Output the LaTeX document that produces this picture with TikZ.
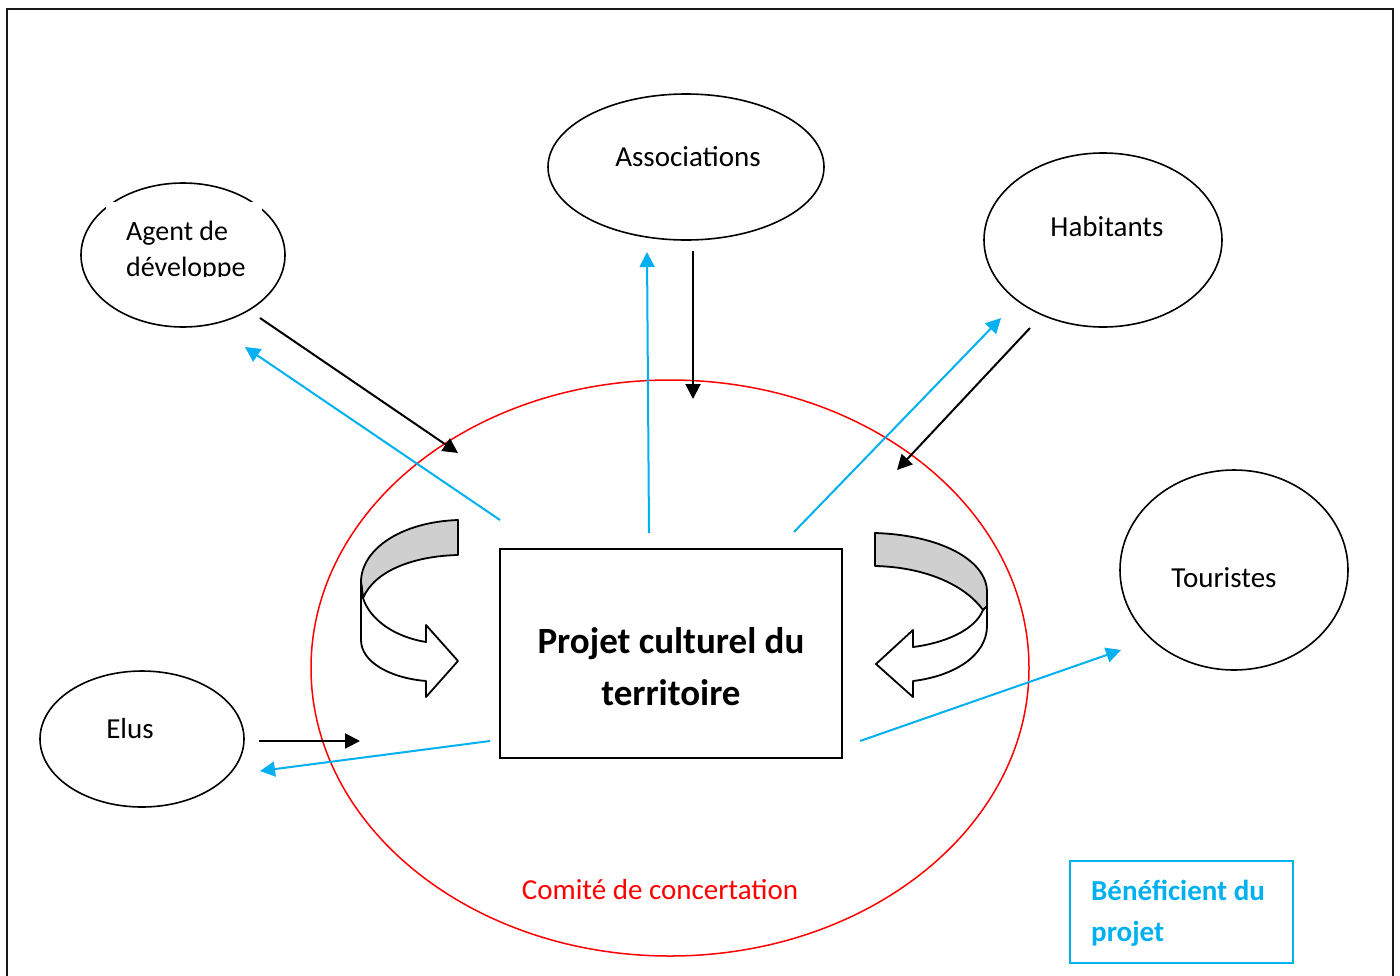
\documentclass[tikz,border=0pt]{standalone}
\usepackage{fontspec}
\setmainfont{Carlito}
\usetikzlibrary{arrows.meta,shapes.geometric}
\definecolor{cyanline}{HTML}{00B0F0}
\definecolor{bandgray}{HTML}{CFCFCF}
\tikzset{
  actor/.style={draw=black,line width=1.6pt,ellipse,inner sep=0pt},
  lbl/.style={anchor=base,inner sep=0pt,font=\fontsize{29}{35}\selectfont},
  blackarrow/.style={draw=black,line width=2pt,-{Triangle[length=15pt,width=15pt]}},
  bluearrow/.style={draw=cyanline,line width=2pt,-{Triangle[length=15pt,width=15pt]}},
  curvedarrow/.style={draw=black,line width=1.8pt,line join=round},
}
\begin{document}
\begin{tikzpicture}[x=1pt,y=-1pt]
\useasboundingbox (0,0) rectangle (1400,975);
\fill[white] (0,0) rectangle (1400,975);
% outer frame (open at the bottom)
\draw[black!90,line width=2.2pt] (7,980) -- (7,9) -- (1393,9) -- (1393,980);

% committee ellipse
\node[draw=red,line width=1.5pt,ellipse,inner sep=0pt,minimum width=718pt,minimum height=576pt] (comite) at (670,668) {};
\node[lbl,text=red] (comitetxt) at (660,899) {Comité de concertation};

% actors
\node[actor,minimum width=276pt,minimum height=146pt] (assoc) at (686,167) {};
\node[lbl] (assoctxt) at (688,166) {Associations};

\node[actor,minimum width=204pt,minimum height=144pt] (agent) at (183,255) {};
\fill[white] (106,202) rectangle (262,277);
\begin{scope}
  \clip (106,202) rectangle (262,276);
  \node[lbl,anchor=base west,font=\fontsize{28}{34}\selectfont] (agenttxt1) at (126,240) {Agent de};
  \node[lbl,anchor=base west,font=\fontsize{28}{34}\selectfont] (agenttxt2) at (126,276) {développe};
\end{scope}

\node[actor,minimum width=238pt,minimum height=174pt] (habit) at (1103,240) {};
\node[lbl] (habittxt) at (1107,236) {Habitants};

\node[actor,minimum width=228pt,minimum height=200pt] (tour) at (1234,570) {};
\node[lbl] (tourtxt) at (1224,587) {Touristes};

\node[actor,minimum width=204pt,minimum height=136pt] (elus) at (142,739) {};
\node[lbl] (elustxt) at (130,738) {Elus};

% central project box
\node[draw=black,line width=1.8pt,rectangle,inner sep=0pt,minimum width=342pt,minimum height=209pt] (projet) at (671,653.5) {};
\node[lbl,font=\bfseries\fontsize{37}{44}\selectfont] (projet1) at (671,653) {Projet culturel du};
\node[lbl,font=\bfseries\fontsize{37}{44}\selectfont] (projet2) at (671,705) {territoire};

% legend
\node[draw=cyanline,line width=1.8pt,rectangle,inner sep=0pt,minimum width=223pt,minimum height=102pt] (legend) at (1181.5,912) {};
\node[lbl,anchor=base west,text=cyanline,font=\bfseries\fontsize{29}{35}\selectfont] (leg1) at (1091,900) {Bénéficient du};
\node[lbl,anchor=base west,text=cyanline,font=\bfseries\fontsize{29}{35}\selectfont] (leg2) at (1091,941) {projet};

% arrow end points
\coordinate (a1s) at (260,318);  \coordinate (a1e) at (458,453);
\coordinate (b1s) at (500,520);  \coordinate (b1e) at (245,347);
\coordinate (b2s) at (649,533);  \coordinate (b2e) at (647,252);
\coordinate (a2s) at (693,251);  \coordinate (a2e) at (693,399);
\coordinate (b3s) at (794,532);  \coordinate (b3e) at (1001,318);
\coordinate (a3s) at (1030,328); \coordinate (a3e) at (897,470);
\coordinate (a4s) at (259,741);  \coordinate (a4e) at (360,741);
\coordinate (b4s) at (490,741);  \coordinate (b4e) at (260,771);
\coordinate (b5s) at (860,741);  \coordinate (b5e) at (1121,650);

\draw[blackarrow] (a1s) -- (a1e);
\draw[bluearrow] (b1s) -- (b1e);
\draw[bluearrow] (b2s) -- (b2e);
\draw[blackarrow] (a2s) -- (a2e);
\draw[bluearrow] (b3s) -- (b3e);
\draw[blackarrow] (a3s) -- (a3e);
\draw[blackarrow] (a4s) -- (a4e);
\draw[bluearrow] (b4s) -- (b4e);
\draw[bluearrow] (b5s) -- (b5e);

% left curved arrow
\filldraw[curvedarrow,fill=bandgray] (458,520) .. controls (400,522) and (361,550) .. (361,582)
  -- (363,598) .. controls (375,570) and (415,556) .. (458,555) -- cycle;
\filldraw[curvedarrow,fill=white] (361,582) -- (361,640) .. controls (361,662) and (390,678) .. (426,681)
  -- (426,697) -- (458,661) -- (426,625) -- (426,642)
  .. controls (395,637) and (370,620) .. (363,598) -- cycle;

% right curved arrow
\filldraw[curvedarrow,fill=bandgray] (875,533) .. controls (940,535) and (987,560) .. (987,592)
  -- (987,606) -- (983,610) .. controls (965,585) and (925,567) .. (875,566) -- cycle;
\filldraw[curvedarrow,fill=white] (987,606) -- (987,626) .. controls (987,655) and (955,676) .. (913,681)
  -- (913,697) -- (876,664) -- (913,630) -- (913,647)
  .. controls (945,643) and (975,630) .. (983,610) -- cycle;
\end{tikzpicture}
\end{document}
